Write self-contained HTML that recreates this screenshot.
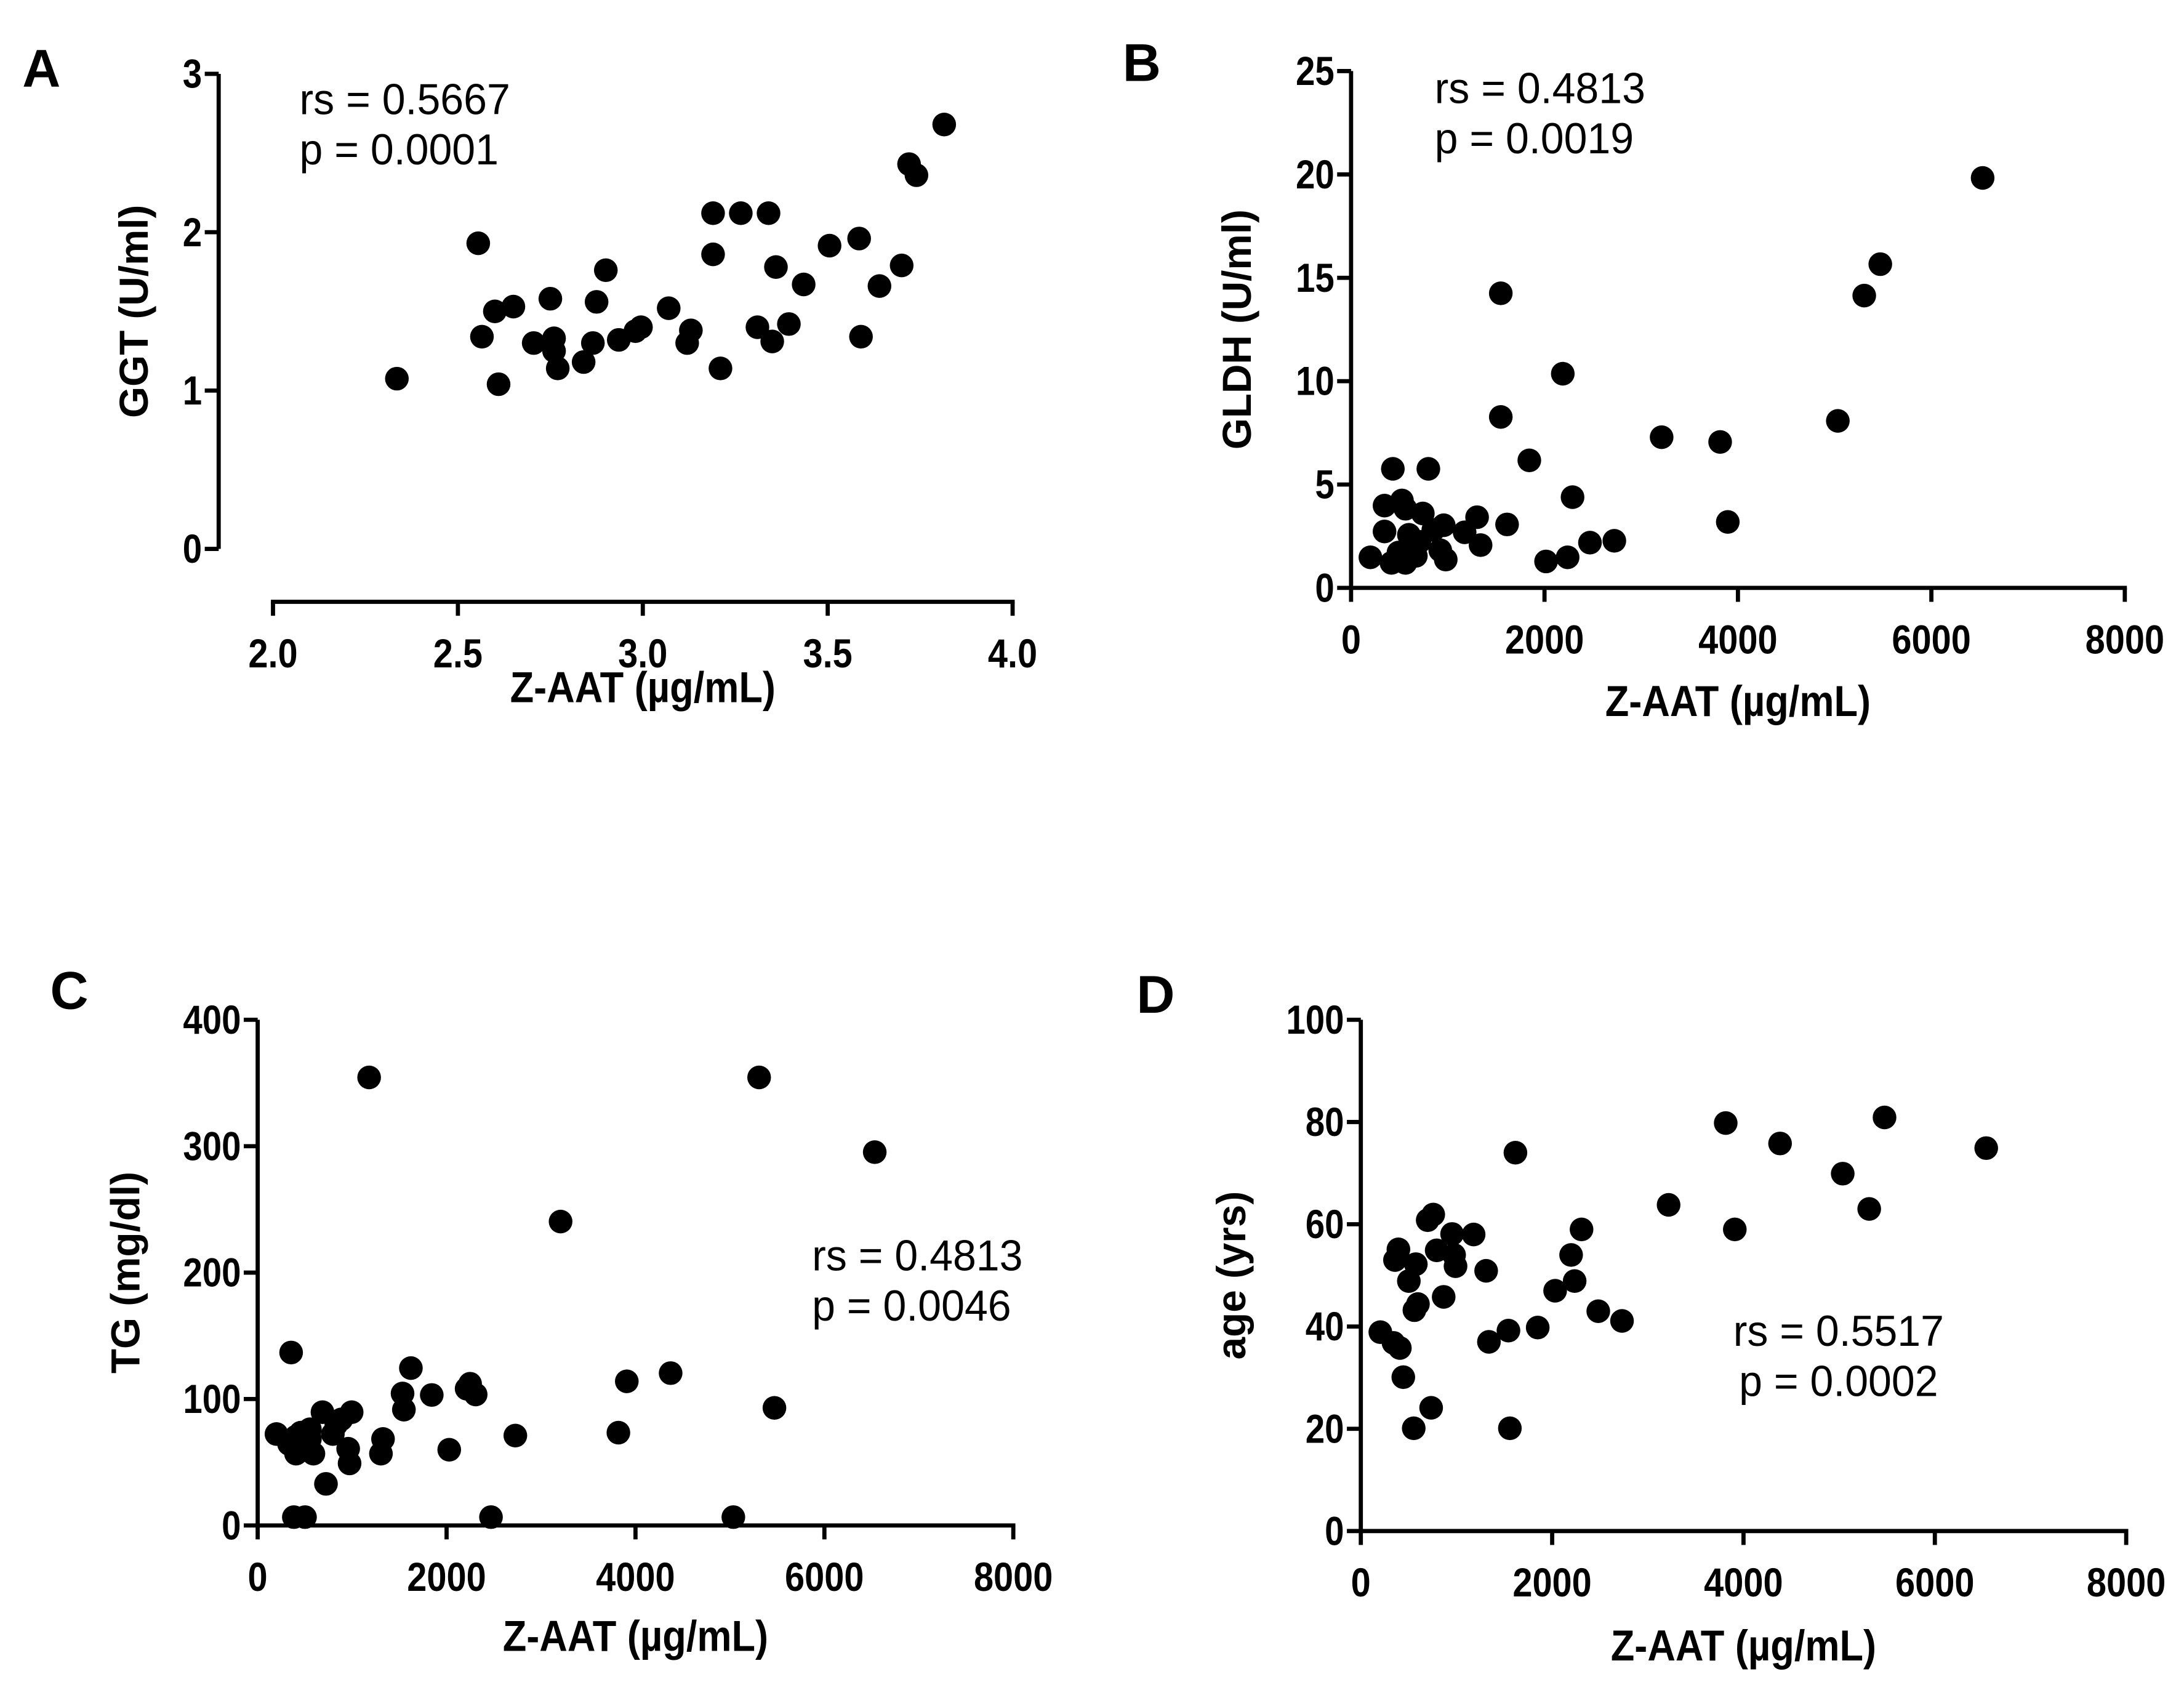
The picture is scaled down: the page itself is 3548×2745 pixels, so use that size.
<!DOCTYPE html>
<html><head><meta charset="utf-8"><style>
html,body{margin:0;padding:0;background:#fff}
svg{display:block}
text{font-family:"Liberation Sans",Arial,sans-serif;fill:#000}
</style></head><body>
<svg id="fig" width="3548" height="2745" viewBox="0 0 1568 1213.1" xmlns="http://www.w3.org/2000/svg"></svg>
<script>
// Panel A data
const aX = [2.335,2.555,2.565,2.60,2.65,2.61,2.705,2.75,2.76,2.76,2.77,2.84,2.865,2.875,2.90,2.935,2.98,2.995,3.07,3.12,3.13,3.19,3.19,3.21,3.265,3.31,3.34,3.35,3.36,3.395,3.435,3.505,3.585,3.59,3.64,3.70,3.72,3.74,3.815];
const aY = [1.075,1.93,1.34,1.50,1.53,1.04,1.30,1.58,1.33,1.25,1.14,1.18,1.30,1.56,1.76,1.32,1.375,1.40,1.52,1.30,1.38,2.12,1.86,1.14,2.12,1.40,2.12,1.31,1.78,1.42,1.67,1.915,1.96,1.34,1.66,1.79,2.43,2.36,2.68];
const aXTicks = [2.0,2.5,3.0,3.5,4.0];
const aYTicks = [0,1,2,3];
// Panel B data
const bX = [200,346,346,418,432,490,526,562,562,598,670,706,742,799,850,922,958,979,1174,1303,1339,1548,1548,1613,1843,2016,2189,2239,2290,2470,2722,3211,3816,3895,5033,5306,5472,6530];
const bY = [1.48,2.73,3.98,1.21,5.76,1.71,4.23,3.83,1.21,2.57,1.55,2.23,3.60,5.76,2.80,1.82,3.03,1.37,2.69,3.42,2.07,14.25,8.27,3.07,6.17,1.28,10.36,1.48,4.39,2.19,2.28,7.29,7.06,3.19,8.08,14.14,15.66,19.83];
const bXTicks = [0,2000,4000,6000,8000];
const bYTicks = [0,5,10,15,20,25];
// Panel C data
const cX = [199,354,332,406,406,383,501,553,457,590,553,686,723,796,833,885,995,958,973,1180,1305,1327,1534,1548,1622,1843,2028,2212,2249,2308,2470,2728,3207,3819,3908,4372,5036,5309,5471,6533];
const cY = [72.3,136.8,64.5,70.3,56.8,6.6,6.6,68.4,73.4,56.8,76.1,89.6,32.9,72.3,80.0,83.9,89.6,60.7,49.1,354.4,56.8,68.4,104.4,91.6,124.5,103.2,59.9,108.2,112.1,103.6,6.6,71.1,240.4,73.4,114.0,120.5,6.6,354.4,93.0,295.3];
const cXTicks = [0,2000,4000,6000,8000];
const cYTicks = [0,100,200,300,400];
// Panel D data
const dX = [204,342,408,357,393,444,502,575,553,560,597,699,757,735,793,866,954,975,990,1179,1310,1339,1543,1558,1616,1849,2031,2198,2235,2307,2482,2730,3217,3814,3909,4382,5037,5314,5474,6537];
const dY = [38.9,36.8,35.8,53.0,55.1,30.1,48.9,52.2,20.1,43.2,44.4,60.8,61.9,24.1,54.9,45.8,58.1,54.0,51.8,58.0,50.9,37.0,39.2,20.1,74.0,39.8,47.0,54.0,48.9,59.0,43.0,41.1,63.8,79.8,59.0,75.8,69.9,63.0,80.9,74.9];
const dXTicks = [0,2000,4000,6000,8000];
const dYTicks = [0,20,40,60,80,100];

const NS = "http://www.w3.org/2000/svg";
const svg = document.getElementById('fig');
function mk(tag, attrs, parent){
  const e = document.createElementNS(NS, tag);
  for (const k in attrs) e.setAttribute(k, attrs[k]);
  (parent||svg).appendChild(e);
  return e;
}
function txt(parent, s, x, y, size, weight, anchor, sx, rot){
  const t = mk('text', {'font-size':size,'font-weight':weight,'text-anchor':anchor,
    transform:`translate(${x},${y}) rotate(${rot||0}) scale(${sx},1)`}, parent);
  t.textContent = s;
  return t;
}
function panel(cfg){
  const g = mk('g', {});
  
  
  const sx = v => cfg.x0 + (v - cfg.xmin)/(cfg.xmax - cfg.xmin)*(cfg.x1 - cfg.x0);
  const sy = v => cfg.y0 - (v - cfg.ymin)/(cfg.ymax - cfg.ymin)*(cfg.y0 - cfg.y1);
  const ya = mk('line', {x1:cfg.yax, y1:sy(cfg.ymin), x2:cfg.yax, y2:sy(cfg.ymax), stroke:'#000','stroke-width':3}, g);
  
  
  cfg.yTicks.forEach(v=>{
    mk('line', {x1:cfg.yax-10, y1:sy(v), x2:cfg.yax, y2:sy(v), stroke:'#000','stroke-width':3}, g);
    const t = txt(g, String(v), cfg.yax-12, sy(v)+10, 29, 'bold', 'end', 0.86);
    
    
  });
  const xa = mk('line', {x1:sx(cfg.xmin)-1.5, y1:cfg.xay, x2:sx(cfg.xmax)+1.5, y2:cfg.xay, stroke:'#000','stroke-width':3}, g);
  
  
  cfg.xTicks.forEach(v=>{
    mk('line', {x1:sx(v), y1:cfg.xay, x2:sx(v), y2:cfg.xay+10, stroke:'#000','stroke-width':3}, g);
    const lab = cfg.fmt ? v.toFixed(1) : String(v);
    const t = txt(g, lab, sx(v), cfg.xay+47, 29, 'bold', 'middle', 0.88);
    
    
  });
  cfg.xs.forEach((v,i)=>{
    const c = mk('circle', {cx:sx(v), cy:sy(cfg.ys[i]), r:8.5, fill:'#000'}, g);
    
    
  });
  const xt = txt(g, 'Z-AAT (µg/mL)', (sx(cfg.xmin)+sx(cfg.xmax))/2, cfg.xtY, 31, 'bold', 'middle', 0.9);
  
  
  const yt = txt(g, cfg.ytitle, cfg.ytX, (sy(cfg.ymin)+sy(cfg.ymax))/2, 29, 'bold', 'middle', 1, -90);
  
  
  const L = txt(g, cfg.letter, cfg.lx, cfg.ly, 38, 'bold', 'start', 1);
  
  
  const s1 = txt(g, cfg.rs, cfg.ax, cfg.ay, 31, 'normal', cfg.aanchor, 0.97);
  
  
  const s2 = txt(g, cfg.p, cfg.ax, cfg.ay+36, 31, 'normal', cfg.aanchor, 0.97);
  
  
}
panel({name:'panel-a-ggt', xs:aX, ys:aY, xTicks:aXTicks, yTicks:aYTicks, fmt:true,
  xmin:2, xmax:4, x0:196, x1:727, ymin:0, ymax:3, y0:394, y1:53, yax:157, xay:432,
  xtY:504, ytitle:'GGT (U/ml)', ytX:106, letter:'A', lx:16, ly:62,
  rs:'rs = 0.5667', p:'p = 0.0001', ax:215, ay:82, aanchor:'start'});
panel({name:'panel-b-gldh', xs:bX, ys:bY, xTicks:bXTicks, yTicks:bYTicks,
  xmin:0, xmax:8000, x0:970, x1:1525.5, ymin:0, ymax:25, y0:422, y1:51, yax:970, xay:422,
  xtY:514, ytitle:'GLDH (U/ml)', ytX:898, letter:'B', lx:806, ly:58,
  rs:'rs = 0.4813', p:'p = 0.0019', ax:1030, ay:74, aanchor:'start'});
panel({name:'panel-c-tg', xs:cX, ys:cY, xTicks:cXTicks, yTicks:cYTicks,
  xmin:0, xmax:8000, x0:185, x1:727.5, ymin:0, ymax:400, y0:1095, y1:732, yax:185, xay:1095,
  xtY:1185, ytitle:'TG (mg/dl)', ytX:100, letter:'C', lx:36, ly:724,
  rs:'rs = 0.4813', p:'p = 0.0046', ax:583, ay:912, aanchor:'start'});
panel({name:'panel-d-age', xs:dX, ys:dY, xTicks:dXTicks, yTicks:dYTicks,
  xmin:0, xmax:8000, x0:977, x1:1526.5, ymin:0, ymax:100, y0:1099, y1:732, yax:977, xay:1099,
  xtY:1192, ytitle:'age (yrs)', ytX:894, letter:'D', lx:816, ly:727,
  rs:'rs = 0.5517', p:'p = 0.0002', ax:1320, ay:966, aanchor:'middle'});
</script>
</body></html>
